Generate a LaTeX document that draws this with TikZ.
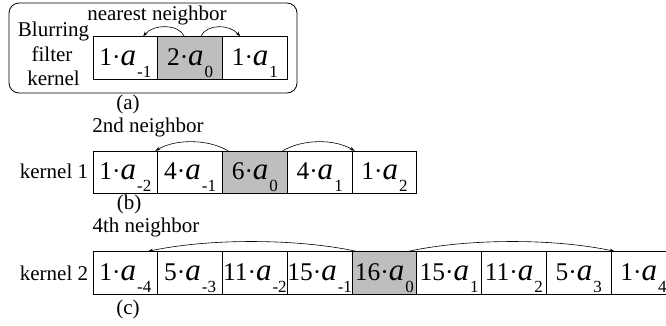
\documentclass[tikz,border=0pt]{standalone}
\usepackage{fontspec}
\setmainfont{Liberation Serif}
\usetikzlibrary{arrows.meta}
\definecolor{cellgray}{RGB}{190,190,192}
\newcommand\kcell[2]{{\fontsize{25.5}{25}\selectfont #1·}{\fontsize{31}{30}\selectfont\itshape a}\hspace{1pt}\raisebox{-12pt}{\fontsize{17}{17}\selectfont #2}}
\begin{document}
\begin{tikzpicture}[x=1pt,y=-1pt,
  kbox/.style={draw, line width=0.8pt, minimum width=64.75pt, minimum height=42.5pt,
    inner sep=0pt, text height=28.25pt, text depth=14.25pt},
  midcell/.style={fill=cellgray},
  lbl/.style={anchor=base, inner sep=0pt, font=\fontsize{21}{24}\selectfont},
  nb/.style={line width=0.6pt, -{Stealth[length=5pt,width=3.5pt]}}]
\clip (0,0) rectangle (666,325);
% (a)
\draw[line width=0.8pt, rounded corners=10pt] (9,3) rectangle (297,93);
\node[kbox] (Am1) at (125.375,58) {\kcell{1}{-1}};
\node[kbox,midcell] (A0) at (190.125,58) {\kcell{2}{0}};
\node[kbox] (A1) at (254.875,58) {\kcell{1}{1}};
\node[lbl] (nn) at (157,20) {nearest neighbor};
\node[lbl] (bl) at (53.5,36) {Blurring};
\node[lbl] (fi) at (52,61) {filter};
\node[lbl] (ke) at (53.5,85) {kernel};
\node[lbl] (la) at (128,109) {(a)};
\draw[nb] ([xshift=27pt]A0.north west) .. controls +(-6,-13) and +(10,-12) .. ([xshift=-15pt]Am1.north east);
\draw[nb] ([xshift=-22pt]A0.north east) .. controls +(6,-13) and +(-10,-12) .. ([xshift=18pt]A1.north west);
% (b)
\node[kbox] (Bm2) at (125.375,172.5) {\kcell{1}{-2}};
\node[kbox] (Bm1) at (190.125,172.5) {\kcell{4}{-1}};
\node[kbox,midcell] (B0) at (254.875,172.5) {\kcell{6}{0}};
\node[kbox] (B1) at (319.625,172.5) {\kcell{4}{1}};
\node[kbox] (B2) at (384.375,172.5) {\kcell{1}{2}};
\node[lbl] (sn) at (148,132) {2nd neighbor};
\node[lbl] (k1) at (54,178) {kernel 1};
\node[lbl] (lb) at (129,209) {(b)};
\draw[nb] ([xshift=6pt]B0.north west) .. controls +(-20,-12) and +(20,-12) .. ([xshift=-2pt]Bm1.north west);
\draw[nb] ([xshift=-5pt]B0.north east) .. controls +(20,-12) and +(-20,-12) .. ([xshift=3pt]B2.north west);
% (c)
\node[kbox] (Cm4) at (125.375,273) {\kcell{1}{-4}};
\node[kbox] (Cm3) at (190.125,273) {\kcell{5}{-3}};
\node[kbox] (Cm2) at (254.875,273) {\kcell{11}{-2}};
\node[kbox] (Cm1) at (319.625,273) {\kcell{15}{-1}};
\node[kbox,midcell] (C0) at (384.375,273) {\kcell{16}{0}};
\node[kbox] (C1) at (449.125,273) {\kcell{15}{1}};
\node[kbox] (C2) at (513.875,273) {\kcell{11}{2}};
\node[kbox] (C3) at (578.625,273) {\kcell{5}{3}};
\node[kbox] (C4) at (643.375,273) {\kcell{1}{4}};
\node[lbl] (fn) at (146,232) {4th neighbor};
\node[lbl] (k2) at (54,280) {kernel 2};
\node[lbl] (lc) at (128,314) {(c)};
\draw[nb] ([xshift=5pt]C0.north west) .. controls +(-60,-13) and +(60,-13) .. ([xshift=-10pt]Cm4.north east);
\draw[nb] ([xshift=-9pt]C0.north east) .. controls +(60,-13) and +(-60,-13) .. ([xshift=4pt]C4.north west);
\end{tikzpicture}
\end{document}
